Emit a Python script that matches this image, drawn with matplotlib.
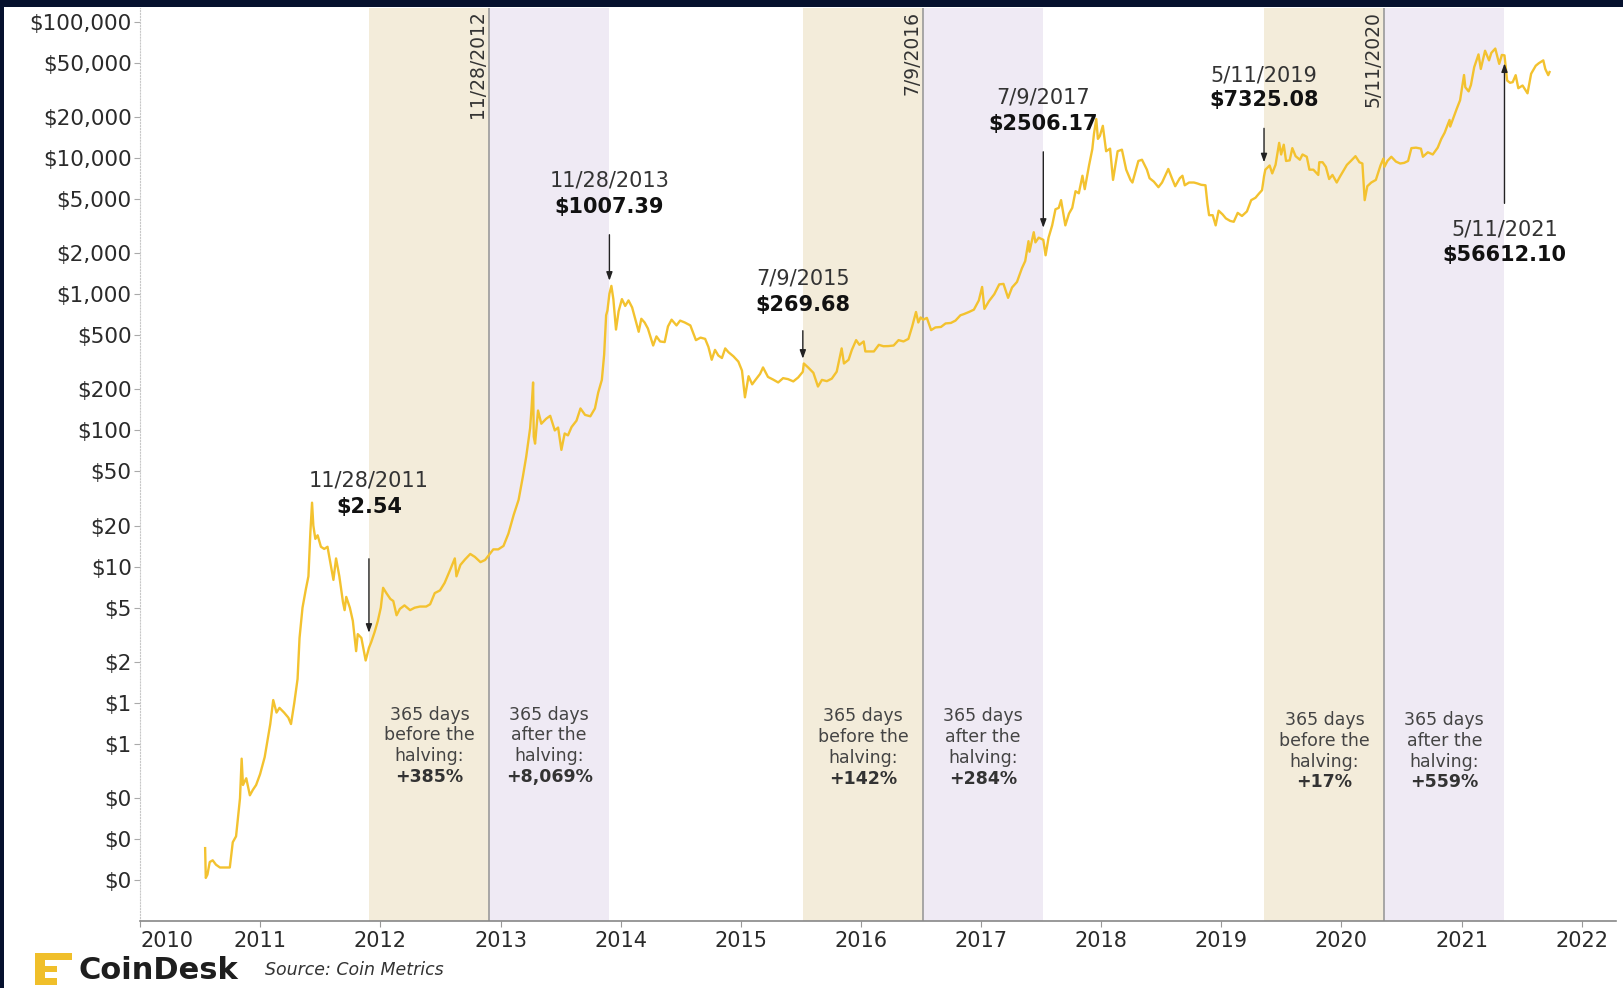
import matplotlib
matplotlib.use("Agg")
import matplotlib.pyplot as plt
import matplotlib.dates as mdates
from matplotlib.patches import Rectangle
import pandas as pd

dates = [
    "2010-07-18", "2010-07-20", "2010-07-25", "2010-08-01", "2010-08-10", "2010-08-20", "2010-09-01",
    "2010-09-15", "2010-10-01", "2010-10-10", "2010-10-20", "2010-11-01", "2010-11-06", "2010-11-10",
    "2010-11-20", "2010-12-01", "2010-12-10", "2010-12-20", "2011-01-01", "2011-01-15", "2011-02-01",
    "2011-02-10", "2011-02-20", "2011-03-01", "2011-03-15", "2011-03-28", "2011-04-05", "2011-04-15",
    "2011-04-25", "2011-05-01", "2011-05-10", "2011-05-20", "2011-05-28", "2011-06-03", "2011-06-08",
    "2011-06-12", "2011-06-18", "2011-06-25", "2011-07-05", "2011-07-15", "2011-07-25", "2011-08-05",
    "2011-08-12", "2011-08-20", "2011-08-30", "2011-09-10", "2011-09-15", "2011-09-20", "2011-10-01",
    "2011-10-10", "2011-10-20", "2011-10-25", "2011-11-05", "2011-11-18", "2011-11-28", "2011-12-05",
    "2011-12-15", "2011-12-25", "2012-01-03", "2012-01-10", "2012-01-20", "2012-02-01", "2012-02-10",
    "2012-02-20", "2012-03-01", "2012-03-15", "2012-04-01", "2012-04-15", "2012-05-01", "2012-05-20",
    "2012-06-01", "2012-06-15", "2012-07-01", "2012-07-15", "2012-08-01", "2012-08-15", "2012-08-20",
    "2012-09-01", "2012-09-15", "2012-10-01", "2012-10-15", "2012-11-01", "2012-11-15", "2012-11-28",
    "2012-12-10", "2012-12-25", "2013-01-10", "2013-01-25", "2013-02-10", "2013-02-25", "2013-03-10",
    "2013-03-20", "2013-04-01", "2013-04-05", "2013-04-10", "2013-04-12", "2013-04-16", "2013-04-25",
    "2013-05-05", "2013-05-20", "2013-06-01", "2013-06-15", "2013-06-25", "2013-07-05", "2013-07-15",
    "2013-07-25", "2013-08-05", "2013-08-20", "2013-09-01", "2013-09-15", "2013-10-01", "2013-10-15",
    "2013-10-25", "2013-11-05", "2013-11-12", "2013-11-18", "2013-11-22", "2013-11-28", "2013-12-04",
    "2013-12-10", "2013-12-18", "2013-12-26", "2014-01-05", "2014-01-15", "2014-01-25", "2014-02-05",
    "2014-02-15", "2014-02-25", "2014-03-05", "2014-03-15", "2014-03-25", "2014-04-10", "2014-04-20",
    "2014-05-01", "2014-05-15", "2014-05-25", "2014-06-05", "2014-06-20", "2014-07-01", "2014-07-15",
    "2014-08-01", "2014-08-18", "2014-09-01", "2014-09-15", "2014-09-25", "2014-10-05", "2014-10-15",
    "2014-10-25", "2014-11-05", "2014-11-15", "2014-11-25", "2014-12-10", "2014-12-25", "2015-01-05",
    "2015-01-14", "2015-01-25", "2015-02-05", "2015-02-15", "2015-03-01", "2015-03-10", "2015-03-25",
    "2015-04-10", "2015-04-25", "2015-05-10", "2015-05-25", "2015-06-10", "2015-06-25", "2015-07-09",
    "2015-07-12", "2015-07-25", "2015-08-10", "2015-08-24", "2015-09-05", "2015-09-20", "2015-10-05",
    "2015-10-20", "2015-11-04", "2015-11-11", "2015-11-25", "2015-12-05", "2015-12-18", "2015-12-28",
    "2016-01-10", "2016-01-15", "2016-01-28", "2016-02-10", "2016-02-25", "2016-03-10", "2016-03-25",
    "2016-04-10", "2016-04-25", "2016-05-10", "2016-05-25", "2016-06-05", "2016-06-17", "2016-06-24",
    "2016-07-01", "2016-07-09", "2016-07-20", "2016-08-02", "2016-08-15", "2016-09-01", "2016-09-15",
    "2016-10-01", "2016-10-15", "2016-10-30", "2016-11-10", "2016-11-25", "2016-12-10", "2016-12-25",
    "2017-01-04", "2017-01-11", "2017-01-25", "2017-02-10", "2017-02-25", "2017-03-10", "2017-03-24",
    "2017-04-05", "2017-04-20", "2017-05-05", "2017-05-15", "2017-05-25", "2017-05-28", "2017-06-10",
    "2017-06-15", "2017-06-25", "2017-07-09", "2017-07-16", "2017-07-25", "2017-08-05", "2017-08-15",
    "2017-08-25", "2017-09-01", "2017-09-14", "2017-09-25", "2017-10-05", "2017-10-15", "2017-10-25",
    "2017-11-05", "2017-11-12", "2017-11-25", "2017-12-05", "2017-12-10", "2017-12-17", "2017-12-22",
    "2017-12-28", "2018-01-06", "2018-01-16", "2018-01-28", "2018-02-06", "2018-02-20", "2018-03-05",
    "2018-03-18", "2018-03-31", "2018-04-06", "2018-04-24", "2018-05-05", "2018-05-20", "2018-05-28",
    "2018-06-10", "2018-06-24", "2018-07-05", "2018-07-24", "2018-08-05", "2018-08-14", "2018-08-28",
    "2018-09-05", "2018-09-12", "2018-09-25", "2018-10-10", "2018-10-20", "2018-11-01", "2018-11-14",
    "2018-11-20", "2018-11-25", "2018-12-06", "2018-12-15", "2018-12-24", "2019-01-05", "2019-01-15",
    "2019-01-28", "2019-02-08", "2019-02-20", "2019-03-05", "2019-03-20", "2019-04-02", "2019-04-15",
    "2019-04-25", "2019-05-05", "2019-05-11", "2019-05-15", "2019-05-28", "2019-06-05", "2019-06-15",
    "2019-06-26", "2019-07-02", "2019-07-10", "2019-07-17", "2019-07-28", "2019-08-05", "2019-08-15",
    "2019-08-28", "2019-09-05", "2019-09-18", "2019-09-26", "2019-10-08", "2019-10-23", "2019-10-26",
    "2019-11-05", "2019-11-15", "2019-11-25", "2019-12-05", "2019-12-18", "2019-12-28", "2020-01-08",
    "2020-01-18", "2020-01-30", "2020-02-13", "2020-02-25", "2020-03-05", "2020-03-12", "2020-03-20",
    "2020-04-01", "2020-04-15", "2020-04-29", "2020-05-08", "2020-05-11", "2020-05-20", "2020-06-01",
    "2020-06-15", "2020-06-28", "2020-07-10", "2020-07-22", "2020-08-01", "2020-08-15", "2020-08-30",
    "2020-09-05", "2020-09-20", "2020-10-05", "2020-10-20", "2020-10-31", "2020-11-10", "2020-11-25",
    "2020-11-27", "2020-12-05", "2020-12-17", "2020-12-27", "2021-01-08", "2021-01-12", "2021-01-22",
    "2021-01-29", "2021-02-08", "2021-02-21", "2021-02-28", "2021-03-13", "2021-03-25", "2021-04-01",
    "2021-04-13", "2021-04-25", "2021-05-03", "2021-05-11", "2021-05-19", "2021-05-28", "2021-06-05",
    "2021-06-14", "2021-06-22", "2021-07-05", "2021-07-20", "2021-07-31", "2021-08-14", "2021-08-23",
    "2021-09-06", "2021-09-12", "2021-09-21", "2021-09-25",
]
prices = [
    0.086, 0.052, 0.055, 0.068, 0.07, 0.065, 0.062,
    0.062, 0.062, 0.095, 0.105, 0.20, 0.39, 0.25,
    0.28, 0.21, 0.23, 0.25, 0.30, 0.40, 0.70,
    1.05, 0.85, 0.92, 0.85, 0.78, 0.70, 1.0,
    1.5, 3.0, 5.0, 6.8, 8.5, 18, 29.5,
    20, 16, 17, 14, 13.5, 14, 10,
    8, 11.5, 8.5, 5.5, 4.8, 6, 5,
    4, 2.4, 3.2, 3.0, 2.05, 2.54, 2.8,
    3.3, 4.0, 5.0, 7.0, 6.4, 5.8, 5.6,
    4.4, 4.9, 5.2, 4.8, 5.0, 5.1, 5.1,
    5.3, 6.4, 6.7, 7.6, 9.5, 11.5, 8.5,
    10.3, 11.3, 12.4, 11.8, 10.8, 11.2, 12.3,
    13.4, 13.4, 14.2, 17.5, 24, 31, 46,
    64, 104, 142, 225, 90, 80, 140,
    112, 122, 128, 100, 105, 72, 95,
    92, 106, 118, 145, 130, 127, 145,
    190, 235, 360, 700, 760, 1007.39, 1150,
    920, 550, 750, 920, 820, 900, 800,
    650, 530, 660, 620, 560, 420, 490,
    450, 445, 580, 650, 590, 640, 620,
    590, 460, 480, 470, 410, 330, 390,
    355, 340, 400, 375, 350, 320, 275,
    175, 250, 218, 235, 260, 290, 247,
    236, 225, 242, 238, 229, 245, 269.68,
    310, 290, 265, 210, 235, 230, 240,
    270, 400, 310, 330, 390, 460, 425,
    450, 380, 380, 380, 425, 415, 416,
    420, 460, 450, 470, 575, 740, 620,
    675, 650, 670, 545, 570, 575, 610,
    615, 640, 700, 715, 740, 770, 900,
    1130, 780, 890, 1000, 1180, 1190, 940,
    1120, 1230, 1550, 1750, 2450, 2050, 2850,
    2400, 2600, 2506.17, 1930, 2600, 3200, 4200,
    4300, 4900, 3200, 3900, 4300, 5700, 5500,
    7400, 5900, 8800, 11600, 15000, 19300, 13800,
    14500, 17200, 11200, 11700, 6900, 11200, 11500,
    8200, 6900, 6600, 9500, 9700, 8200, 7100,
    6700, 6100, 6600, 8300, 7000, 6200, 7100,
    7400, 6300, 6600, 6600, 6500, 6350, 6300,
    4600, 3800, 3800, 3200, 4100, 3850, 3600,
    3450, 3400, 3950, 3750, 4050, 4900, 5100,
    5450, 5800, 7325.08, 8200, 8800, 7700, 8900,
    12900, 10600, 12500, 9500, 9600, 11800, 10300,
    9700, 10600, 10200, 8200, 8200, 7500, 9300,
    9300, 8600, 7000, 7500, 6600, 7300, 8100,
    8900, 9500, 10300, 9300, 9100, 4900, 6200,
    6600, 6900, 8800, 9900, 8600, 9500, 10200,
    9400, 9100, 9200, 9500, 11800, 11900, 11700,
    10200, 11000, 10600, 11900, 13800, 15300, 19000,
    17000, 19200, 23000, 26500, 40600, 33000, 30800,
    34300, 46400, 57500, 45000, 61200, 52000, 59000,
    63500, 49000, 57000, 56612.10, 37000, 35600, 36000,
    40500, 32500, 34000, 29800, 41500, 47500, 49500,
    52000, 45000, 40500, 42700,
]

halvings = ["2012-11-28", "2016-07-09", "2020-05-11"]
halving_labels = ["11/28/2012", "7/9/2016", "5/11/2020"]
before_pct = ["+385%", "+142%", "+17%"]
after_pct = ["+8,069%", "+284%", "+559%"]

callout_dates = ["2011-11-28", "2013-11-28", "2015-07-09", "2017-07-09", "2019-05-11", "2021-05-11"]
callout_labels = ["11/28/2011", "11/28/2013", "7/9/2015", "7/9/2017", "5/11/2019", "5/11/2021"]
callout_prices = [2.54, 1007.39, 269.68, 2506.17, 7325.08, 56612.10]

ytick_vals = [100000, 50000, 20000, 10000, 5000, 2000, 1000, 500, 200, 100,
              50, 20, 10, 5, 2, 1, 0.5, 0.2, 0.1, 0.05]
ytick_labels = ["$100,000", "$50,000", "$20,000", "$10,000", "$5,000", "$2,000", "$1,000",
                "$500", "$200", "$100", "$50", "$20", "$10", "$5", "$2", "$1", "$1",
                "$0", "$0", "$0"]
years = list(range(2010, 2023))

W, H = 1623, 988
fig = plt.figure(figsize=(W / 100, H / 100), dpi=100)
fig.patch.set_facecolor("white")
ax = fig.add_axes([140 / W, 1 - 921 / H, (1616 - 140) / W, (921 - 8) / H])

x = mdates.date2num(pd.to_datetime(dates))
ax.set_yscale("log")

# halving bands
tan = "#f3ecda"
lav = "#efeaf4"
band_text_top = [0.226, 0.224, 0.220]
step = 0.0227
tr = ax.get_xaxis_transform()
for h, lab, bp, ap, y0 in zip(halvings, halving_labels, before_pct, after_pct, band_text_top):
    hd = mdates.date2num(pd.Timestamp(h))
    ax.axvspan(hd - 365, hd, color=tan, lw=0, zorder=0)
    ax.axvspan(hd, hd + 365, color=lav, lw=0, zorder=0)
    ax.axvline(hd, color="#9a9a9a", lw=1.2, zorder=1)
    ax.text(hd - 6, 0.997, lab, transform=tr, rotation=90,
            ha="right", va="top", fontsize=13.5, color="#333333")
    for cx, word, pct in [(hd - 182, "before the", bp), (hd + 182, "after the", ap)]:
        for i, line in enumerate(["365 days", word, "halving:"]):
            ax.text(cx, y0 - i * step, line, transform=tr, ha="center", va="center",
                    fontsize=12.5, color="#444444")
        ax.text(cx, y0 - 3 * step, pct, transform=tr, ha="center", va="center",
                fontsize=12.5, color="#333333", fontweight="bold")

ax.plot(x, prices, color="#f3c22f", lw=1.7, zorder=3)

# callouts: (arrow start, gap, date text, price text) in pixels from the point
offs = [(89, 15, 167, 141), (59, 13, 113, 87), (41, 13, 93, 67),
        (88, 12, 142, 116), (48, 14, 101, 76), (-148, 8, -174, -200)]
for d, lab, p, (a0, gap, t1, t2) in zip(callout_dates, callout_labels, callout_prices, offs):
    xd = mdates.date2num(pd.Timestamp(d))
    ax.annotate("", xy=(xd, p), xytext=(0, a0), textcoords="offset pixels",
                arrowprops=dict(arrowstyle="-|>,head_length=0.5,head_width=0.18",
                                color="#222222", lw=1.0, shrinkA=0, shrinkB=gap * 0.72),
                zorder=4)
    ax.annotate(lab, xy=(xd, p), xytext=(0, t1), textcoords="offset pixels",
                ha="center", va="center", fontsize=15, color="#333333", zorder=5)
    ax.annotate("$" + f"{p:.2f}", xy=(xd, p), xytext=(0, t2), textcoords="offset pixels",
                ha="center", va="center", fontsize=15, color="#111111",
                fontweight="bold", zorder=5)

ax.set_xlim(mdates.date2num(pd.Timestamp("2010-01-01")), mdates.date2num(pd.Timestamp("2022-04-15")))
ax.set_ylim(0.0251, 126000)

ax.set_yticks(ytick_vals)
ax.set_yticklabels(ytick_labels)
ax.yaxis.set_minor_locator(plt.NullLocator())
ax.set_xticks(mdates.date2num(pd.to_datetime([f"{y}-01-01" for y in years])))
ax.set_xticklabels([str(y) for y in years])
ax.get_xticklabels()[0].set_ha("left")
ax.xaxis.set_minor_locator(plt.NullLocator())

ax.tick_params(axis="y", length=4, width=0.8, color="#aaaaaa", pad=2,
               labelsize=15.5, labelcolor="#2a2a2a")
ax.tick_params(axis="x", length=4, width=0.8, color="#999999", pad=3,
               labelsize=15, labelcolor="#2a2a2a")
for s in ["top", "right"]:
    ax.spines[s].set_visible(False)
ax.spines["left"].set_color("#c8c8c8")
ax.spines["left"].set_linestyle(":")
ax.spines["bottom"].set_color("#888888")
ax.spines["bottom"].set_linewidth(1.2)
ax.set_facecolor("white")

# navy frame edges
navy = "#06112e"
fig.add_artist(Rectangle((0, 1 - 7 / H), 1, 7 / H, transform=fig.transFigure, color=navy, lw=0))
fig.add_artist(Rectangle((0, 0), 4 / W, 1, transform=fig.transFigure, color=navy, lw=0))

# CoinDesk logo
gold = "#f0bf2a"
for (px, py, pw, ph) in [(35, 953, 10, 32), (35, 953, 32, 7), (35, 966, 22, 6), (35, 978, 22, 7), (62, 953, 10, 7)]:
    fig.add_artist(Rectangle((px / W, 1 - (py + ph) / H), pw / W, ph / H,
                             transform=fig.transFigure, color=gold, lw=0))
fig.text(78 / W, 1 - 970 / H, "CoinDesk", fontsize=22, fontweight="bold",
         color="#1e1e1e", va="center", ha="left")
fig.text(265 / W, 1 - 970 / H, "Source: Coin Metrics", fontsize=12.5, style="italic",
         color="#333333", va="center", ha="left")

fig.savefig("out.png", dpi=100)
